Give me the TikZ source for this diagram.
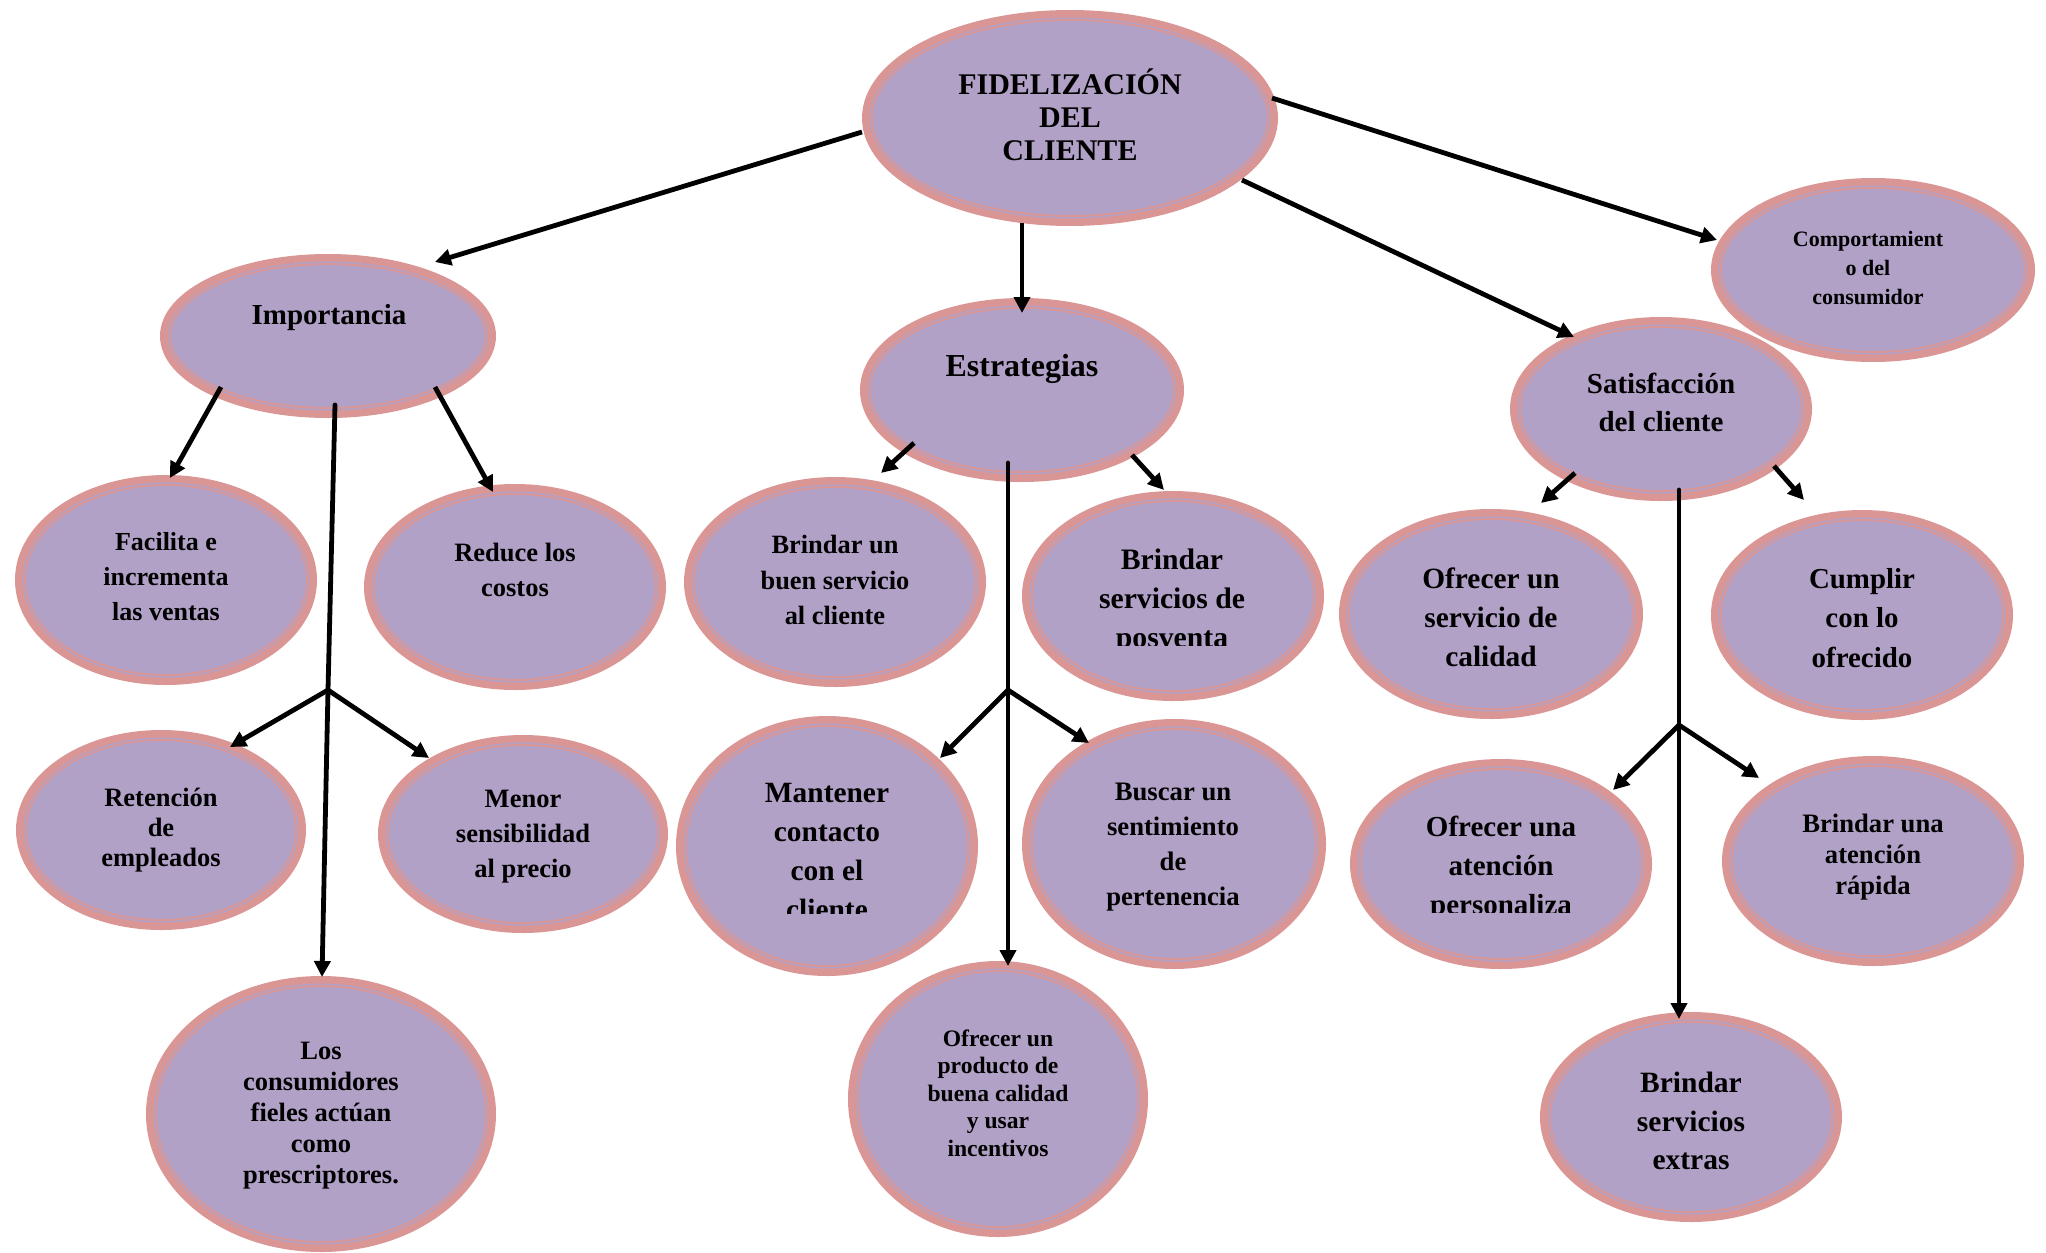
\documentclass[tikz,border=0pt]{standalone}
\usepackage{fontspec}
\setmainfont{Liberation Serif}
\usetikzlibrary{arrows.meta,shapes.geometric,calc}
\definecolor{lil}{HTML}{B2A1C7}
\definecolor{pnk}{HTML}{D99694}
\tikzset{
 bub/.style={ellipse, fill=lil, draw=pnk, line width=7.5pt, inner sep=0pt, outer sep=0pt},
 inl/.style={draw=pnk, line width=1.8pt},
 txt/.style={align=center, inner sep=0pt, font=\bfseries},
 con/.style={line width=4.8pt, -{Triangle[length=16pt,width=16pt]}},
 seg/.style={line width=4.8pt, line cap=round},
}
\newcommand\bubble[5]{%
 \node[bub, minimum width={2*#4pt-7.5pt}, minimum height={2*#5pt-7.5pt}] (#1) at (#2,#3) {};
 \draw[inl] (#1.center) ellipse [x radius={#4pt-10pt}, y radius={#5pt-10pt}];
}
\newcommand\fs[2]{\fontsize{#1}{#2}\selectfont\bfseries}
\begin{document}
\begin{tikzpicture}[x=1pt,y=-1pt]
\useasboundingbox (0,0) rectangle (2046,1253);
% bubbles
\bubble{fid}{1070}{118}{208}{108}
\bubble{imp}{328}{336}{168}{82}
\bubble{est}{1022}{390}{162}{92}
\bubble{sat}{1661}{409}{151}{92}
\bubble{com}{1873}{270}{162}{92}
\bubble{fac}{166}{580}{151}{105}
\bubble{red}{515}{587}{151}{103}
\bubble{ret}{161}{830}{145}{100}
\bubble{men}{523}{834}{145}{99}
\bubble{los}{321}{1114}{175}{138}
\bubble{bue}{835}{582}{151}{105}
\bubble{pos}{1173}{596}{151}{105}
\bubble{man}{827}{846}{151}{130}
\bubble{bus}{1174}{844}{152}{125}
\bubble{pro}{998}{1099}{150}{138}
\bubble{cal}{1491}{614}{152}{105}
\bubble{cum}{1862}{615}{151}{105}
\bubble{per}{1501}{864}{151}{105}
\bubble{rap}{1873}{861}{151}{105}
\bubble{ext}{1691}{1117}{151}{105}
% texts
\node[txt, font=\fs{30}{33}] (fidt) at (1070,115) {FIDELIZACIÓN\\DEL\\CLIENTE};
\node[txt, font=\fs{29}{34}] (impt) at (329,318) {Importancia};
\node[txt, font=\fs{32}{38}] (estt) at (1022,369) {Estrategias};
\node[txt, font=\fs{29}{38}] (satt) at (1661,402) {Satisfacción\\del cliente};
\node[txt, font=\fs{22}{29}] (comt) at (1868,268) {Comportamient\\o del\\consumidor};
\node[txt, font=\fs{26}{35}] (fact) at (166,577) {Facilita e\\incrementa\\las ventas};
\node[txt, font=\fs{26.5}{35}] (redt) at (515,570) {Reduce los\\costos};
\node[txt, font=\fs{26.5}{30}] (rett) at (161,830) {Retención\\de\\empleados};
\node[txt, font=\fs{26.5}{35}] (ment) at (523,837) {Menor\\sensibilidad\\al precio};
\node[txt, font=\fs{26.5}{31}] (lost) at (321,1116) {Los\\consumidores\\fieles actúan\\como\\prescriptores.};
\node[txt, font=\fs{26.4}{35.5}] (buet) at (835,580) {Brindar un\\buen servicio\\al cliente};
\begin{scope}
\clip (1000,480) rectangle (1340,645);
\node[txt, font=\fs{29.7}{39}] (post) at (1172,601) {Brindar\\servicios de\\posventa};
\end{scope}
\begin{scope}
\clip (660,700) rectangle (990,913);
\node[txt, font=\fs{29.4}{39}] (mant) at (827,852) {Mantener\\contacto\\con el\\cliente};
\end{scope}
\node[txt, font=\fs{26.7}{35}] (bust) at (1173,847) {Buscar un\\sentimiento\\de\\pertenencia};
\node[txt, font=\fs{23.6}{27.5}] (prot) at (998,1093) {Ofrecer un\\producto de\\buena calidad\\y usar\\incentivos};
\node[txt, font=\fs{29.4}{39}] (calt) at (1491,617) {Ofrecer un\\servicio de\\calidad};
\node[txt, font=\fs{28.9}{39.5}] (cumt) at (1862,618) {Cumplir\\con lo\\ofrecido};
\begin{scope}
\clip (1340,750) rectangle (1670,912);
\node[txt, font=\fs{29}{39}] (pert) at (1501,868) {Ofrecer una\\atención\\personaliza};
\end{scope}
\node[txt, font=\fs{26.6}{31}] (rapt) at (1873,857) {Brindar una\\atención\\rápida};
\node[txt, font=\fs{29.5}{38.5}] (extt) at (1691,1121) {Brindar\\servicios\\extras};
% branch points
\coordinate (ib) at (328,690);
\coordinate (eb) at (1008,690);
\coordinate (sb) at (1679,725);
% connectors from the root
\draw[con] ($(fid)+(-208,14)$) -- ($(imp)+(107,-74)$);
\draw[con] ($(fid)+(-48,105)$) -- ($(est)+(0,-77)$);
\draw[con] ($(fid)+(172,62)$) -- ($(sat)+(-87,-72)$);
\draw[con] ($(fid)+(202,-20)$) -- ($(com)+(-156,-30)$);
% Importancia
\draw[con] ($(imp)+(-107,51)$) -- ($(fac)+(4,-102)$);
\draw[con] ($(imp)+(107,51)$) -- ($(red)+(-22,-95)$);
\draw[seg] ($(imp)+(7,69)$) -- (ib);
\draw[con] (ib) -- ($(los)+(1,-137)$);
\draw[con] (ib) -- ($(ret)+(69,-83)$);
\draw[con] (ib) -- ($(men)+(-94,-76)$);
% Estrategias
\draw[con] ($(est)+(-108,53)$) -- ($(bue)+(46,-109)$);
\draw[con] ($(est)+(110,65)$) -- ($(pos)+(-9,-106)$);
\draw[seg] ($(est)+(-14,73)$) -- (eb);
\draw[con] (eb) -- ($(pro)+(10,-133)$);
\draw[con] (eb) -- ($(man)+(113,-88)$);
\draw[con] (eb) -- ($(bus)+(-85,-101)$);
% Satisfaccion
\draw[con] ($(sat)+(-86,64)$) -- ($(cal)+(50,-111)$);
\draw[con] ($(sat)+(113,57)$) -- ($(cum)+(-58,-115)$);
\draw[seg] ($(sat)+(18,81)$) -- (sb);
\draw[con] (sb) -- ($(ext)+(-12,-98)$);
\draw[con] (sb) -- ($(per)+(112,-74)$);
\draw[con] (sb) -- ($(rap)+(-114,-83)$);
\end{tikzpicture}
\end{document}
